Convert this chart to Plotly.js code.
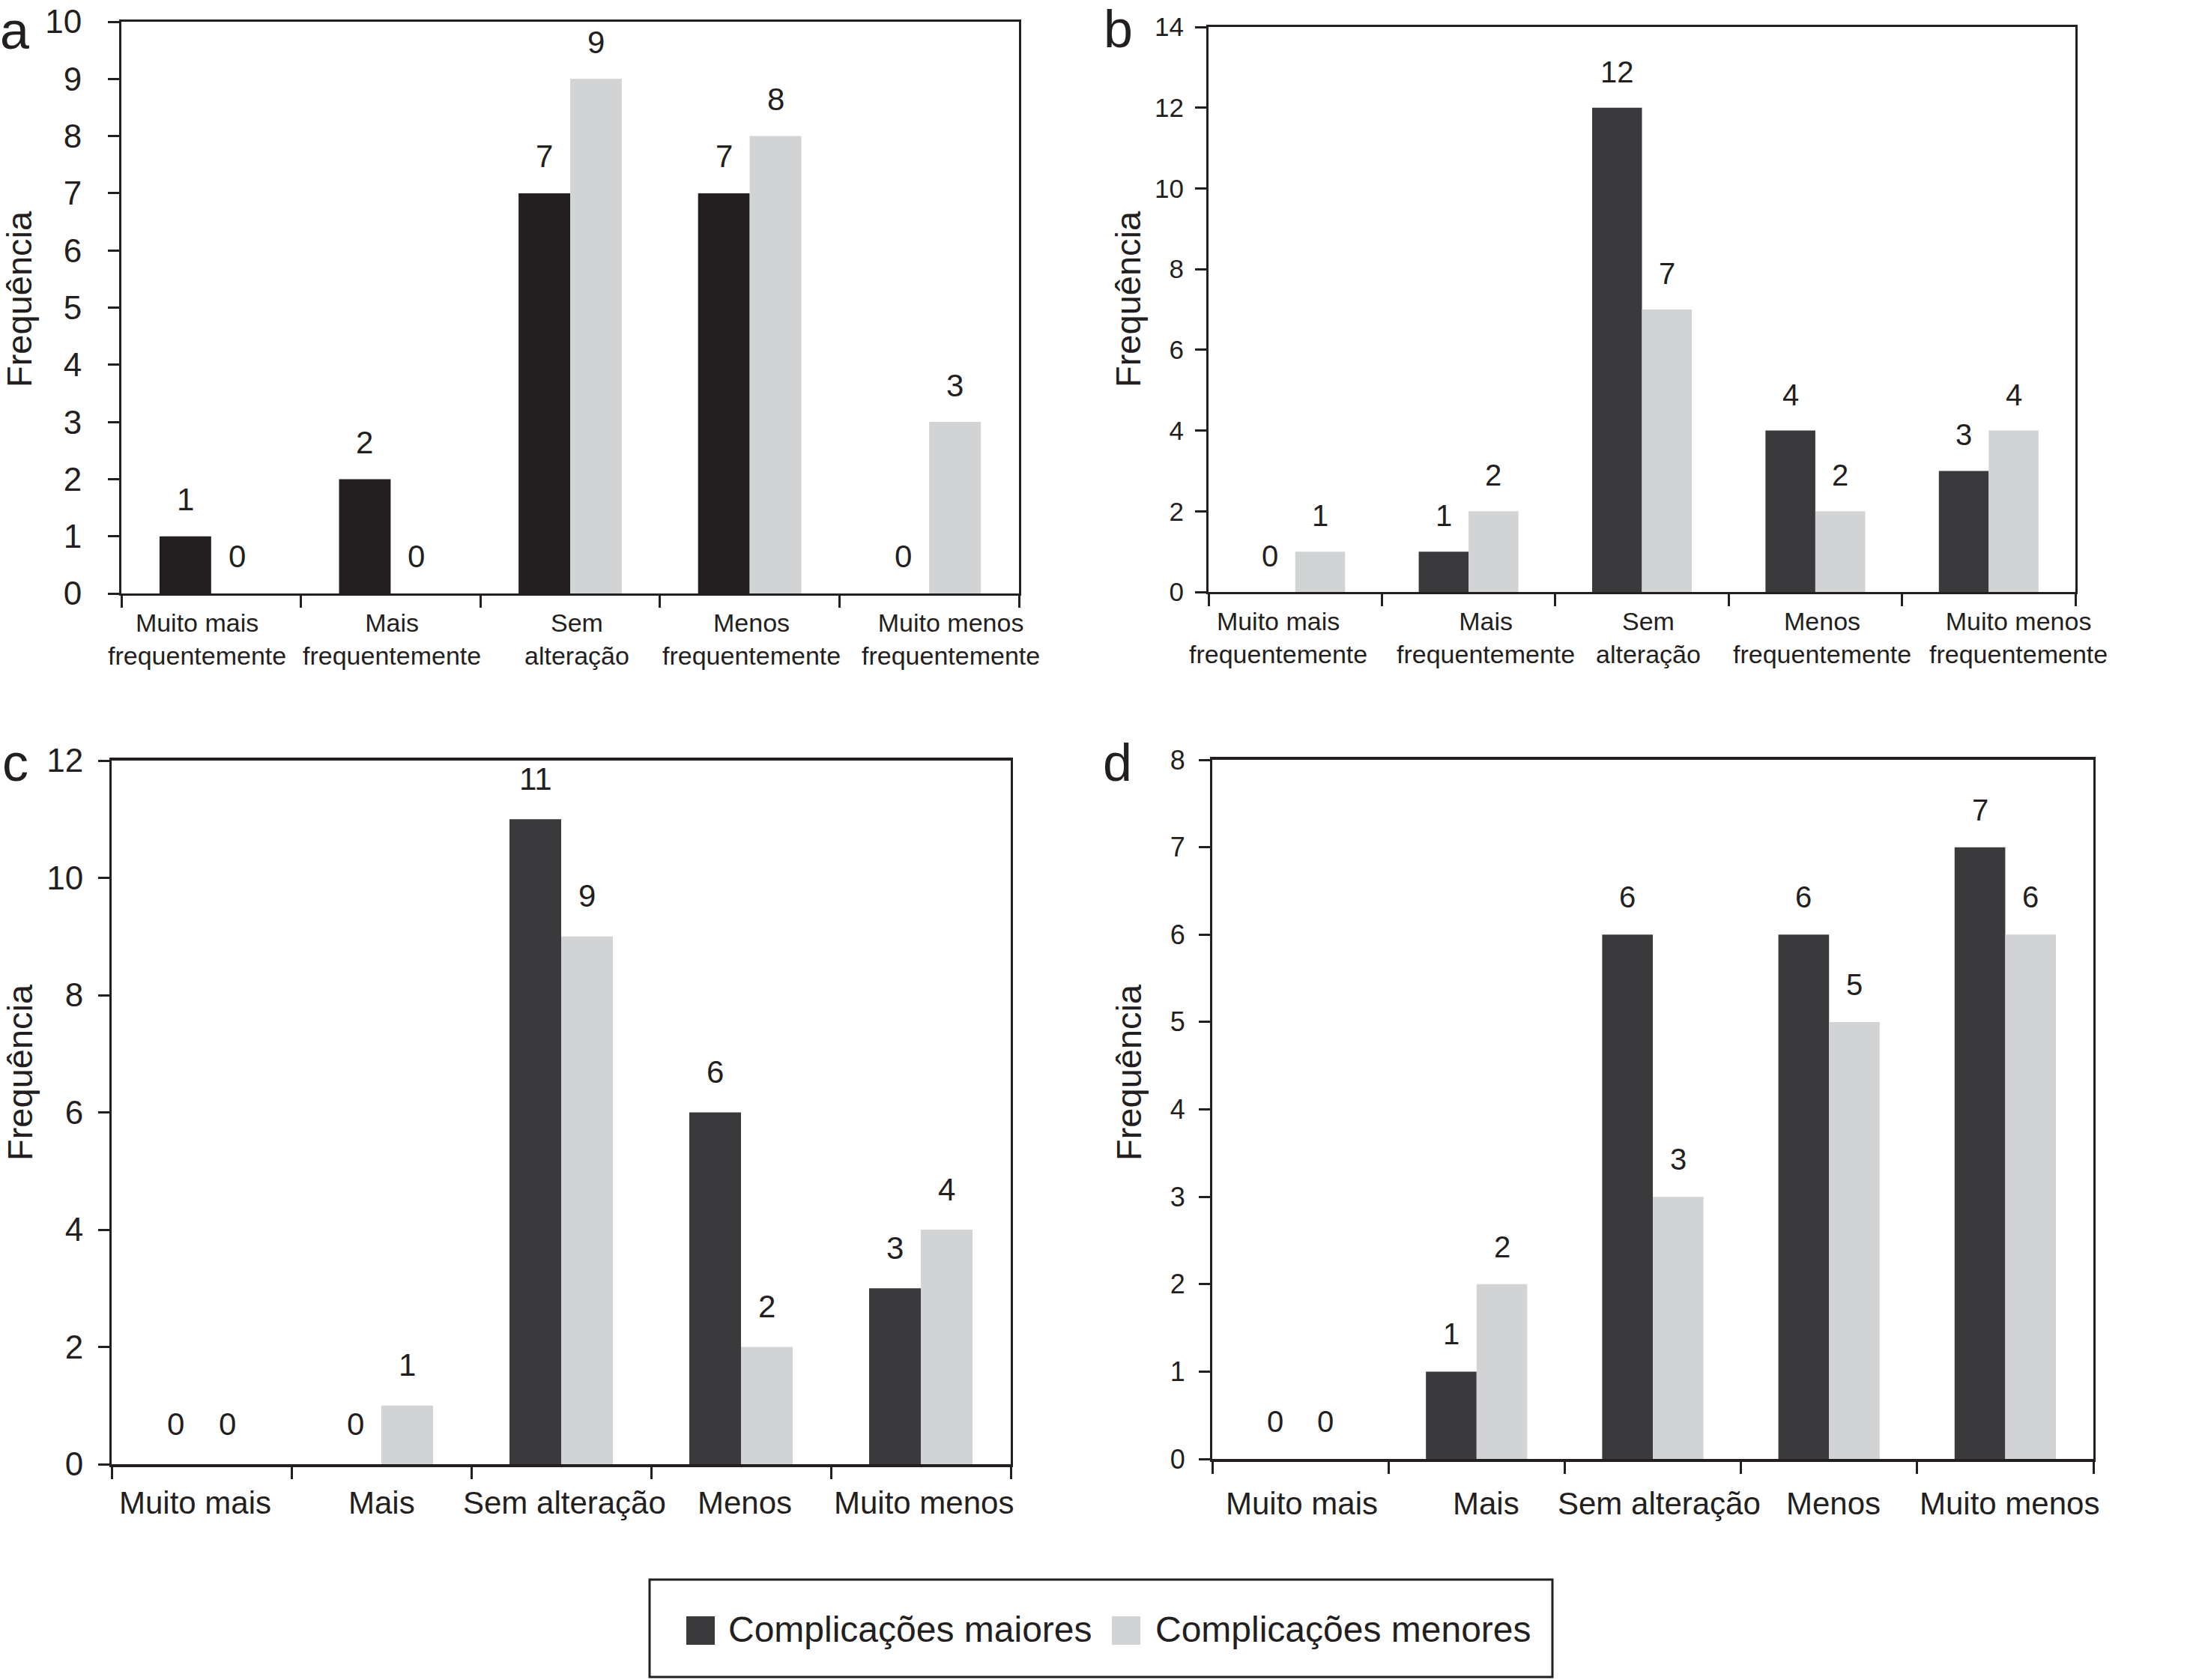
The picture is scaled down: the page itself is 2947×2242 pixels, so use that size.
<!DOCTYPE html>
<html><head><meta charset="utf-8">
<script src="https://cdn.plot.ly/plotly-3.0.1.min.js"></script>
<style>html,body{margin:0;padding:0;background:#fff}</style>
</head><body><div id="chart" style="width:2947px;height:2242px"></div>
<script>
// ---------- data ----------
const seriesNames = ['Complicações maiores', 'Complicações menores'];
const catsAB = ['Muito mais<br>frequentemente', 'Mais<br>frequentemente', 'Sem<br>alteração', 'Menos<br>frequentemente', 'Muito menos<br>frequentemente'];
const catsCD = ['Muito mais', 'Mais', 'Sem alteração', 'Menos', 'Muito menos'];
const aMaiores = [1, 2, 7, 7, 0];
const aMenores = [0, 0, 9, 8, 3];
const bMaiores = [0, 1, 12, 4, 3];
const bMenores = [1, 2, 7, 2, 4];
const cMaiores = [0, 0, 11, 6, 3];
const cMenores = [0, 1, 9, 2, 4];
const dMaiores = [0, 1, 6, 6, 7];
const dMenores = [0, 2, 3, 5, 6];
const panelLetters = ['a', 'b', 'c', 'd'];
const yTitle = 'Frequência';
const yMax = [10, 14, 12, 8];
const yStep = [1, 2, 2, 1];

// ---------- style ----------
const W = 2947, H = 2242;
const INK = '#231f20';
const DARK = '#3a3a3c';
const LIGHT = '#d1d3d4';
const FONT = 'Liberation Sans, Arial, Helvetica, sans-serif';
const px = v => v / W;
const py = v => 1 - v / H;

// labelShift: horizontal nudge (px) of each category label, as in the original typesetting
const panels = [
  {cats: catsAB, maj: aMaiores, min: aMenores, majColor: INK, L: 162, R: 1360, T: 29, B: 792,
   tickFont: 44, ySO: 26, xFont: 34, labelShift: [-19, 2, 9, 2, 29], labelY: -18, xLine: 3,
   valFont: 42, valShift: 49, letterX: 19, letterY: 41, titleX: 26, titleY: 399},
  {cats: catsAB, maj: bMaiores, min: bMenores, majColor: DARK, L: 1613, R: 2770, T: 36, B: 790,
   tickFont: 35, ySO: 8, xFont: 34, labelShift: [-23, 23, 8, 9, 40], labelY: -18, xLine: 3,
   valFont: 40, valShift: 48, letterX: 1492, letterY: 39, titleX: 1506, titleY: 399},
  {cats: catsCD, maj: cMaiores, min: cMenores, majColor: DARK, L: 149, R: 1349, T: 1015, B: 1954,
   tickFont: 44, ySO: 11, xFont: 42, labelShift: [-9, 0, 4, 5, 4], labelY: -26, xLine: 4,
   valFont: 42, valShift: 54, letterX: 20, letterY: 1018, titleX: 26, titleY: 1431},
  {cats: catsCD, maj: dMaiores, min: dMenores, majColor: DARK, L: 1618, R: 2794, T: 1014, B: 1947,
   tickFont: 36, ySO: 11, xFont: 42, labelShift: [2, 13, 8, 6, 6], labelY: -34, xLine: 4,
   valFont: 40, valShift: 50, letterX: 1491, letterY: 1018, titleX: 1506, titleY: 1431}
];

const BARGAP = 0.425;
const half = (1 - BARGAP) / 4; // offset of each bar centre from category centre

const traces = [];
const annotations = [];
const layout = {
  width: W, height: H, autosize: false,
  margin: {l: 0, r: 0, t: 0, b: 0},
  paper_bgcolor: '#fff', plot_bgcolor: '#fff',
  barmode: 'group', bargap: BARGAP, bargroupgap: 0,
  showlegend: false,
  font: {family: FONT, color: INK},
  shapes: []
};

panels.forEach((p, i) => {
  const n = i === 0 ? '' : String(i + 1);
  const xa = 'x' + n, ya = 'y' + n;
  traces.push({type: 'bar', x: p.cats, y: p.maj, name: seriesNames[0], xaxis: xa, yaxis: ya,
    marker: {color: p.majColor, line: {width: 0}}, hoverinfo: 'skip'});
  traces.push({type: 'bar', x: p.cats, y: p.min, name: seriesNames[1], xaxis: xa, yaxis: ya,
    marker: {color: LIGHT, line: {width: 0}}, hoverinfo: 'skip'});

  layout['xaxis' + n] = {
    domain: [px(p.L), px(p.R)], anchor: ya, type: 'category',
    categoryorder: 'array', categoryarray: p.cats,
    range: [-0.5, p.cats.length - 0.5], autorange: false,
    showline: true, linecolor: INK, linewidth: p.xLine, mirror: true,
    ticks: 'outside', tickson: 'boundaries', ticklen: 16, tickwidth: 3, tickcolor: INK,
    tickangle: 0, automargin: false, showticklabels: false,
    showgrid: false, zeroline: false, fixedrange: true
  };
  layout['yaxis' + n] = {
    domain: [py(p.B), py(p.T)], anchor: xa,
    range: [0, yMax[i]], autorange: false, dtick: yStep[i], tick0: 0,
    showline: true, linecolor: INK, linewidth: 3, mirror: true,
    ticks: 'outside', ticklen: 15, tickwidth: 3, tickcolor: INK, automargin: false,
    tickfont: {size: p.tickFont, family: FONT, color: INK}, ticklabelstandoff: p.ySO,
    showgrid: false, zeroline: false, fixedrange: true
  };

  // category labels under the axis
  p.cats.forEach((c, k) => {
    annotations.push({xref: xa, yref: ya, x: k, y: 0, text: c, showarrow: false,
      xanchor: 'center', yanchor: 'top', xshift: p.labelShift[k], yshift: p.labelY,
      align: 'center', font: {size: p.xFont, family: FONT, color: INK}});
  });

  // value labels above bars
  p.maj.forEach((v, k) => {
    annotations.push({xref: xa, yref: ya, x: k - half, y: v, text: String(v), showarrow: false,
      xanchor: 'center', yanchor: 'middle', yshift: p.valShift,
      font: {size: p.valFont, family: FONT, color: INK}});
  });
  p.min.forEach((v, k) => {
    annotations.push({xref: xa, yref: ya, x: k + half, y: v, text: String(v), showarrow: false,
      xanchor: 'center', yanchor: 'middle', yshift: p.valShift,
      font: {size: p.valFont, family: FONT, color: INK}});
  });

  // panel letter
  annotations.push({xref: 'paper', yref: 'paper', x: px(p.letterX), y: py(p.letterY), text: panelLetters[i],
    showarrow: false, xanchor: 'center', yanchor: 'middle', font: {size: 70, family: FONT, color: INK}});
  // y title
  annotations.push({xref: 'paper', yref: 'paper', x: px(p.titleX), y: py(p.titleY), text: yTitle,
    textangle: -90, showarrow: false, xanchor: 'center', yanchor: 'middle',
    font: {size: 47, family: FONT, color: INK}});
});

// legend box drawn manually
layout.shapes.push({type: 'rect', xref: 'paper', yref: 'paper', x0: px(867), x1: px(2072), y0: py(2238), y1: py(2108),
  line: {color: INK, width: 3}, fillcolor: 'rgba(0,0,0,0)'});
const legendItems = [{color: DARK, sx: 916, tx: 970}, {color: LIGHT, sx: 1484, tx: 1540}];
legendItems.forEach((it, k) => {
  layout.shapes.push({type: 'rect', xref: 'paper', yref: 'paper', x0: px(it.sx), x1: px(it.sx + 38),
    y0: py(2195), y1: py(2157), line: {width: 0}, fillcolor: it.color});
  annotations.push({xref: 'paper', yref: 'paper', x: px(it.tx), y: py(2174), text: seriesNames[k],
    showarrow: false, xanchor: 'left', yanchor: 'middle', font: {size: 48, family: FONT, color: INK}});
});

layout.annotations = annotations;
Plotly.newPlot('chart', traces, layout, {staticPlot: true, displayModeBar: false});
</script>
</body></html>
